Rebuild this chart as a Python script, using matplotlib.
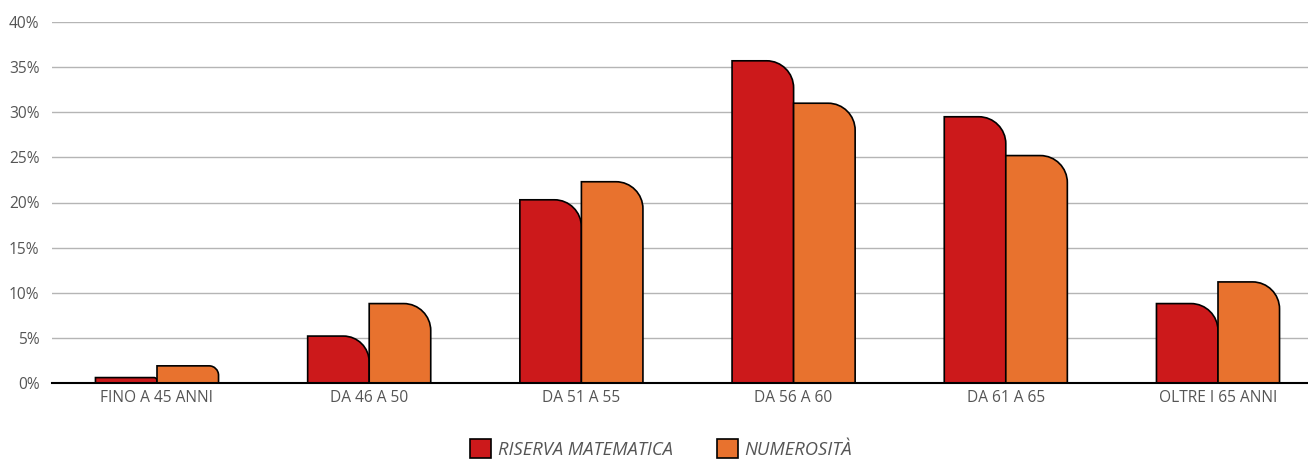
import matplotlib.pyplot as plt
from matplotlib.path import Path
from matplotlib.patches import PathPatch, Patch

plt.rcParams['font.family'] = ['Open Sans', 'DejaVu Sans']

categories = ['FINO A 45 ANNI', 'DA 46 A 50', 'DA 51 A 55', 'DA 56 A 60', 'DA 61 A 65', 'OLTRE I 65 ANNI']
riserva = [0.6, 5.2, 20.3, 35.7, 29.5, 8.8]
numerosita = [1.9, 8.8, 22.3, 31.0, 25.2, 11.2]
series_names = ['RISERVA MATEMATICA', 'NUMEROSITÀ']
colors = ['#cc191b', '#e8722e']
yticks = [0, 5, 10, 15, 20, 25, 30, 35, 40]

W, H = 1308, 459
fig = plt.figure(figsize=(W / 100, H / 100), dpi=100)
ax = fig.add_axes([52 / W, (H - 383) / H, 1 - 52 / W, (383 - 22) / H])
step = 212.2   # pixels between group centres
ax.set_xlim(-(157 - 52) / step, (W - 157) / step)
ax.set_ylim(0, 40)

px_x = step
px_y = (383 - 22) / 40.0
bw = 0.29
K = 0.5523


def rounded_bar(x0, w, h, color):
    # only the top-right corner is rounded, radius given in pixels
    r = min(27, 0.55 * h * px_y)
    rx, ry = r / px_x, r / px_y
    x1 = x0 + w
    verts = [(x0, 0), (x0, h), (x1 - rx, h),
             (x1 - rx + K * rx, h), (x1, h - ry + K * ry), (x1, h - ry),
             (x1, 0), (x0, 0)]
    codes = [Path.MOVETO, Path.LINETO, Path.LINETO,
             Path.CURVE4, Path.CURVE4, Path.CURVE4,
             Path.LINETO, Path.CLOSEPOLY]
    ax.add_patch(PathPatch(Path(verts, codes), facecolor=color,
                           edgecolor='black', linewidth=1.2, zorder=3))


for i in range(len(categories)):
    rounded_bar(i - bw, bw, riserva[i], colors[0])
    rounded_bar(i, bw, numerosita[i], colors[1])

ax.set_yticks(yticks)
ax.set_yticklabels([f'{t}%' for t in yticks])
ax.set_xticks(range(len(categories)))
ax.set_xticklabels(categories)
ax.tick_params(length=0, labelsize=11.2, labelcolor='#555555')
ax.tick_params(axis='y', pad=9)
ax.tick_params(axis='x', pad=5)
ax.grid(axis='y', color='#b5b5b5', linewidth=1)
ax.set_axisbelow(True)
for s in ['top', 'right', 'left']:
    ax.spines[s].set_visible(False)
ax.spines['bottom'].set_color('black')
ax.spines['bottom'].set_linewidth(1.5)
ax.spines['bottom'].set_zorder(4)

handles = [Patch(facecolor=c, edgecolor='black', linewidth=1.2) for c in colors]
fig.legend(handles, series_names, loc='center', bbox_to_anchor=(661 / W, (H - 449) / H),
           ncol=2, frameon=False, prop={'style': 'italic', 'size': 13.2},
           labelcolor='#555555', handlelength=1.15, handleheight=1.2,
           handletextpad=0.35, columnspacing=2.4, borderpad=0, borderaxespad=0)

fig.savefig('out.png', dpi=100)
